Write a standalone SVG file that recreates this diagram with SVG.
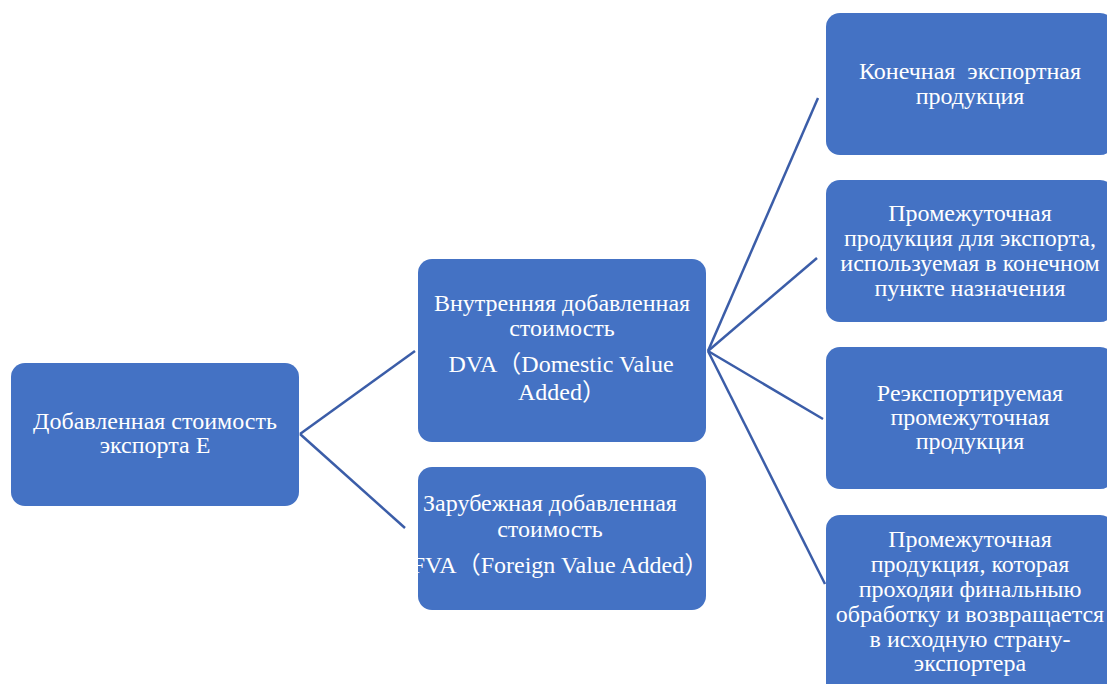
<svg xmlns="http://www.w3.org/2000/svg" width="1107" height="684" viewBox="0 0 1107 684">
<style>
.box{fill:#4472C4;}
.t{font-family:"Liberation Serif","Noto Sans CJK SC",serif;font-size:24px;fill:#FFFFFF;text-anchor:middle;}
.c{stroke:#3B5DA8;stroke-width:2.5;fill:none;}
</style>
<rect width="1107" height="684" fill="#FFFFFF"/>
<g id="connectors">
<line class="c" x1="300" y1="434" x2="415" y2="351"/>
<line class="c" x1="300" y1="434" x2="405" y2="528"/>
<line class="c" x1="708" y1="351" x2="818" y2="98"/>
<line class="c" x1="708" y1="351" x2="817" y2="258"/>
<line class="c" x1="708" y1="351" x2="823" y2="419"/>
<line class="c" x1="708" y1="351" x2="825" y2="584"/>
</g>
<g id="node-root">
<rect class="box" x="11" y="363" width="288" height="143" rx="14"/>
<text class="t" x="155" y="429">Добавленная стоимость</text>
<text class="t" x="155" y="453">экспорта Е</text>
</g>
<g id="node-dva">
<rect class="box" x="418" y="259" width="288" height="183" rx="14"/>
<text class="t" x="562" y="311">Внутренняя добавленная</text>
<text class="t" x="562" y="336">стоимость</text>
<text class="t" x="561" y="372">DVA（Domestic Value</text>
<text class="t" x="562" y="400">Added）</text>
</g>
<g id="node-fva">
<rect class="box" x="418" y="467" width="288" height="143" rx="14"/>
<text class="t" x="550" y="511">Зарубежная добавленная</text>
<text class="t" x="550" y="537">стоимость</text>
<text class="t" x="560" y="573">FVA（Foreign Value Added）</text>
</g>
<g id="node-final">
<rect class="box" x="826" y="13" width="288" height="142" rx="14"/>
<text class="t" x="970" y="79" xml:space="preserve">Конечная  экспортная</text>
<text class="t" x="970" y="104">продукция</text>
</g>
<g id="node-intermediate">
<rect class="box" x="826" y="180" width="288" height="142" rx="14"/>
<text class="t" x="970" y="221">Промежуточная</text>
<text class="t" x="970" y="246">продукция для экспорта,</text>
<text class="t" x="970" y="271">используемая в конечном</text>
<text class="t" x="970" y="296">пункте назначения</text>
</g>
<g id="node-reexport">
<rect class="box" x="826" y="347" width="288" height="142" rx="14"/>
<text class="t" x="970" y="401">Реэкспортируемая</text>
<text class="t" x="970" y="425">промежуточная</text>
<text class="t" x="970" y="449">продукция</text>
</g>
<g id="node-return">
<rect class="box" x="826" y="515" width="288" height="185" rx="14"/>
<text class="t" x="970" y="547">Промежуточная</text>
<text class="t" x="970" y="572">продукция, которая</text>
<text class="t" x="970" y="597">проходяи финальныю</text>
<text class="t" x="970" y="622">обработку и возвращается</text>
<text class="t" x="970" y="647">в исходную страну-</text>
<text class="t" x="970" y="671">экспортера</text>
</g>
</svg>
